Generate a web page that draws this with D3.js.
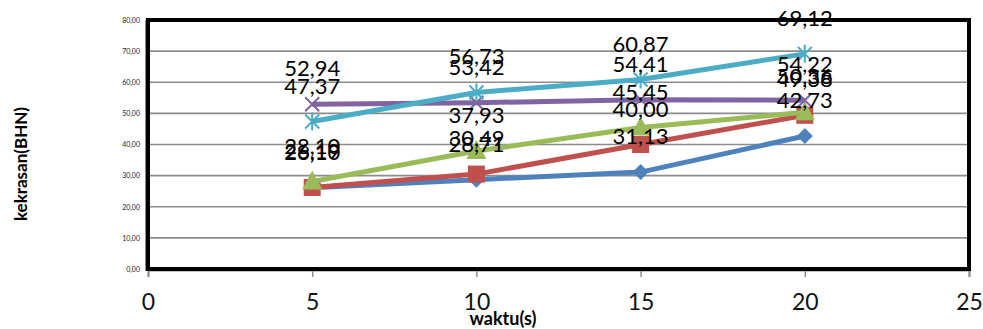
<!DOCTYPE html>
<html>
<head>
<meta charset="utf-8">
<script src="https://cdn.jsdelivr.net/npm/d3@7"></script>
<style>
  html, body { margin: 0; padding: 0; background: #fff; }
  svg { display: block; font-family: Lato, "Open Sans", sans-serif; }
</style>
</head>
<body>
<svg id="chart" width="983" height="329"></svg>
<script>
// Time points (s)
const waktu = [5, 10, 15, 20];
// Hardness series (BHN)
const seriesBlue   = [26.10, 28.71, 31.13, 42.73];
const seriesRed    = [26.19, 30.49, 40.00, 49.38];
const seriesGreen  = [28.10, 37.93, 45.45, 50.36];
const seriesPurple = [52.94, 53.42, 54.41, 54.22];
const seriesCyan   = [47.37, 56.73, 60.87, 69.12];
// Axis ticks
const xTicks = [0, 5, 10, 15, 20, 25];
const yTicks = [0, 10, 20, 30, 40, 50, 60, 70, 80];

const series = [
  { values: seriesBlue,   color: "#4F81BD", marker: "diamond" },
  { values: seriesRed,    color: "#C0504D", marker: "square" },
  { values: seriesGreen,  color: "#9BBB59", marker: "triangle" },
  { values: seriesPurple, color: "#8064A2", marker: "cross" },
  { values: seriesCyan,   color: "#4BACC6", marker: "star" }
];

const fmt = v => d3.format(".2f")(v).replace(".", ",");

const svg = d3.select("#chart");
const plotL = 148, plotR = 969, plotT = 20, plotB = 269;

const x = d3.scaleLinear().domain([0, 25]).range([plotL, plotR]);
const y = d3.scaleLinear().domain([0, 80]).range([plotB, plotT]);

// Horizontal gridlines
svg.append("g")
  .selectAll("line")
  .data(yTicks.slice(1, -1))
  .join("line")
  .attr("x1", plotL).attr("x2", plotR)
  .attr("y1", d => y(d)).attr("y2", d => y(d))
  .attr("stroke", "#8c8c8c").attr("stroke-width", 1.6);

// Y axis labels
const yAxis = d3.axisLeft(y).tickValues(yTicks).tickFormat(fmt).tickSize(0).tickPadding(0);
svg.append("g")
  .attr("transform", `translate(${plotL - 8},0)`)
  .call(yAxis)
  .call(g => g.select(".domain").remove())
  .call(g => g.selectAll("text")
    .attr("font-size", 7).attr("fill", "#222")
    .attr("font-family", "Lato, sans-serif"));

// X axis ticks and labels
const xAxis = d3.axisBottom(x).tickValues(xTicks).tickFormat(d3.format("d")).tickSize(7).tickPadding(17);
svg.append("g")
  .attr("transform", `translate(0,${plotB + 1})`)
  .call(xAxis)
  .call(g => g.select(".domain").attr("stroke", "#8c8c8c").attr("stroke-width", 2))
  .call(g => g.selectAll(".tick line").attr("stroke", "#8c8c8c").attr("stroke-width", 1.5))
  .call(g => g.selectAll("text")
    .attr("font-size", 23).attr("fill", "#111")
    .attr("font-family", "Lato, sans-serif"));

// Left axis line (grey) beside the frame
svg.append("line")
  .attr("x1", plotL - 2).attr("x2", plotL - 2)
  .attr("y1", plotT).attr("y2", plotB + 2)
  .attr("stroke", "#8c8c8c").attr("stroke-width", 2);

// Plot area frame
svg.append("rect")
  .attr("x", plotL).attr("y", plotT)
  .attr("width", plotR - plotL).attr("height", plotB - plotT)
  .attr("fill", "none").attr("stroke", "#000").attr("stroke-width", 4);

// Marker shapes
function drawMarker(g, type, color) {
  if (type === "diamond") {
    g.append("path").attr("d", "M0,-8L8,0L0,8L-8,0Z").attr("fill", color);
  } else if (type === "square") {
    g.append("rect").attr("x", -8.5).attr("y", -8.5).attr("width", 17).attr("height", 17).attr("fill", color);
  } else if (type === "triangle") {
    g.append("path").attr("d", "M0,-11L10,8L-10,8Z").attr("fill", color);
  } else if (type === "cross") {
    g.append("path").attr("d", "M-7,-7L7,7M-7,7L7,-7")
      .attr("stroke", color).attr("stroke-width", 2).attr("fill", "none");
  } else if (type === "star") {
    g.append("path").attr("d", "M-7,-7L7,7M-7,7L7,-7M0,-9L0,9")
      .attr("stroke", color).attr("stroke-width", 2).attr("fill", "none");
  }
}

const line = d3.line().x((d, i) => x(waktu[i])).y(d => y(d));

series.forEach(s => {
  const g = svg.append("g");
  g.append("path")
    .attr("d", line(s.values))
    .attr("fill", "none")
    .attr("stroke", s.color)
    .attr("stroke-width", 5)
    .attr("stroke-linejoin", "round");
  s.values.forEach((v, i) => {
    const m = g.append("g").attr("transform", `translate(${x(waktu[i])},${y(v)})`);
    drawMarker(m, s.marker, s.color);
  });
});

// Data labels
series.forEach(s => {
  svg.append("g")
    .selectAll("text")
    .data(s.values)
    .join("text")
    .attr("x", (d, i) => x(waktu[i]))
    .attr("y", d => y(d) - 28)
    .attr("text-anchor", "middle")
    .attr("font-size", 22)
    .attr("fill", "#000")
    .text(d => fmt(d));
});

// Axis titles
svg.append("text")
  .attr("x", 503).attr("y", 325)
  .attr("text-anchor", "middle")
  .attr("font-size", 18).attr("font-weight", "bold")
  .text("waktu(s)");

svg.append("text")
  .attr("transform", "translate(27,164) rotate(-90)")
  .attr("text-anchor", "middle")
  .attr("font-size", 17).attr("font-weight", "bold")
  .text("kekrasan(BHN)");
</script>
</body>
</html>
